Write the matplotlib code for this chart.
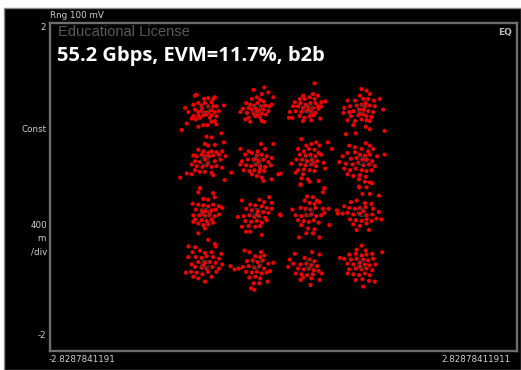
import matplotlib
matplotlib.use("Agg")
import matplotlib.pyplot as plt
from matplotlib.patches import Rectangle

# Ideal 16-QAM reference levels (unit average power)
levels = [-0.949, -0.316, 0.316, 0.949]

# Received symbols, grouped by constellation point (I, Q)
pts_r1c1 = [(-1.07, 1.11), (-1.05, 1.12), (-0.96, 1.07), (-0.91, 1.08), (-0.85, 1.07), (-0.83, 1.09),
            (-0.87, 1.03), (-1.09, 1.00), (-1.03, 1.02), (-0.99, 0.99), (-0.95, 1.02), (-0.91, 0.98),
            (-0.85, 0.98), (-0.81, 0.98), (-0.72, 0.99), (-1.19, 0.96), (-1.15, 0.91), (-1.07, 0.94),
            (-1.03, 0.91), (-0.99, 0.92), (-0.95, 0.90), (-0.91, 0.91), (-0.87, 0.93), (-0.83, 0.91),
            (-1.09, 0.86), (-1.03, 0.87), (-0.97, 0.87), (-0.93, 0.88), (-0.87, 0.87), (-0.81, 0.86),
            (-1.11, 0.83), (-1.06, 0.82), (-1.01, 0.84), (-0.83, 0.80), (-0.87, 0.79), (-0.81, 0.76),
            (-0.97, 0.75), (-0.92, 0.75), (-1.03, 0.73), (-1.17, 0.77), (-1.23, 0.69), (-0.99, 0.96),
            (-0.78, 0.92), (-0.89, 0.84)]
pts_r1c2 = [(-0.36, 1.18), (-0.23, 1.21), (-0.26, 1.13), (-0.18, 1.15), (-0.12, 1.09), (-0.38, 1.07),
            (-0.32, 1.09), (-0.28, 1.06), (-0.24, 1.04), (-0.45, 1.02), (-0.40, 1.00), (-0.35, 0.99),
            (-0.31, 1.02), (-0.27, 0.98), (-0.22, 0.99), (-0.17, 0.98), (-0.49, 0.95), (-0.42, 0.96),
            (-0.38, 0.94), (-0.33, 0.95), (-0.29, 0.93), (-0.24, 0.94), (-0.18, 0.92), (-0.52, 0.91),
            (-0.44, 0.90), (-0.36, 0.89), (-0.31, 0.88), (-0.26, 0.89), (-0.21, 0.88), (-0.42, 0.84),
            (-0.34, 0.86), (-0.28, 0.84), (-0.46, 0.82), (-0.40, 0.79), (-0.26, 0.80), (-0.23, 0.79),
            (-0.32, 0.91), (-0.14, 1.00)]
pts_r1c3 = [(0.38, 1.26), (0.24, 1.11), (0.36, 1.13), (0.42, 1.11), (0.20, 1.07), (0.26, 1.07),
            (0.32, 1.09), (0.38, 1.07), (0.14, 1.03), (0.21, 1.02), (0.27, 1.00), (0.33, 1.02),
            (0.39, 1.02), (0.46, 1.03), (0.51, 1.04), (0.12, 0.98), (0.18, 0.98), (0.24, 0.96),
            (0.30, 0.98), (0.36, 0.96), (0.42, 0.98), (0.46, 0.98), (0.08, 0.91), (0.15, 0.92),
            (0.22, 0.91), (0.28, 0.92), (0.34, 0.91), (0.39, 0.90), (0.07, 0.84), (0.11, 0.84),
            (0.20, 0.86), (0.26, 0.84), (0.32, 0.86), (0.37, 0.87), (0.45, 0.83), (0.24, 0.80),
            (0.34, 0.81), (0.31, 0.94), (0.43, 0.95)]
pts_r1c4 = [(0.95, 1.19), (1.01, 1.17), (0.93, 1.11), (1.05, 1.13), (1.17, 1.07), (0.78, 1.05),
            (0.87, 1.05), (0.97, 1.07), (1.03, 1.07), (1.10, 1.05), (0.74, 0.96), (0.81, 0.98),
            (0.89, 0.99), (0.95, 1.00), (1.00, 1.02), (1.05, 0.99), (1.11, 0.98), (1.21, 0.94),
            (0.73, 0.90), (0.80, 0.91), (0.85, 0.92), (0.92, 0.94), (0.97, 0.94), (1.03, 0.92),
            (1.09, 0.91), (0.82, 0.86), (0.91, 0.87), (0.97, 0.88), (1.01, 0.86), (1.07, 0.85),
            (0.78, 0.81), (0.87, 0.80), (0.95, 0.82), (1.01, 0.81), (1.05, 0.80), (0.85, 0.75),
            (1.00, 0.73), (1.05, 0.70), (0.76, 0.64), (0.88, 0.65), (1.23, 0.68), (0.93, 0.89),
            (0.99, 0.98)]
pts_r2c1 = [(-0.75, 0.65), (-0.93, 0.61), (-0.87, 0.60), (-0.72, 0.54), (-0.95, 0.52), (-0.91, 0.50),
            (-0.83, 0.51), (-1.03, 0.45), (-0.97, 0.43), (-0.91, 0.41), (-0.87, 0.43), (-0.81, 0.42),
            (-0.74, 0.43), (-1.09, 0.38), (-1.05, 0.37), (-0.99, 0.39), (-0.95, 0.37), (-0.90, 0.37),
            (-0.85, 0.38), (-0.78, 0.39), (-0.70, 0.37), (-1.07, 0.31), (-1.01, 0.30), (-0.95, 0.33),
            (-0.91, 0.29), (-0.83, 0.31), (-0.76, 0.33), (-1.11, 0.27), (-1.05, 0.25), (-0.98, 0.24),
            (-0.93, 0.26), (-0.87, 0.24), (-0.81, 0.25), (-0.74, 0.23), (-1.07, 0.20), (-1.01, 0.18),
            (-0.95, 0.18), (-0.87, 0.17), (-0.63, 0.17), (-1.17, 0.16), (-1.25, 0.11), (-1.11, 0.15),
            (-0.71, 0.08), (-1.01, -0.02), (-0.85, 0.14)]
pts_r2c2 = [(-0.27, 0.52), (-0.12, 0.52), (-0.22, 0.46), (-0.52, 0.46), (-0.42, 0.43), (-0.31, 0.43),
            (-0.46, 0.39), (-0.38, 0.41), (-0.32, 0.38), (-0.26, 0.39), (-0.20, 0.37), (-0.14, 0.35),
            (-0.50, 0.31), (-0.43, 0.33), (-0.36, 0.33), (-0.30, 0.31), (-0.24, 0.33), (-0.18, 0.30),
            (-0.52, 0.27), (-0.45, 0.26), (-0.39, 0.25), (-0.33, 0.27), (-0.28, 0.25), (-0.22, 0.24),
            (-0.15, 0.26), (-0.48, 0.20), (-0.41, 0.19), (-0.35, 0.20), (-0.29, 0.18), (-0.23, 0.19),
            (-0.38, 0.15), (-0.32, 0.13), (-0.26, 0.11), (-0.24, 0.07), (-0.14, 0.09), (-0.06, 0.15),
            (-0.34, 0.34), (-0.28, 0.22)]
pts_r2c3 = [(0.22, 0.58), (0.40, 0.54), (0.54, 0.54), (0.28, 0.50), (0.34, 0.52), (0.44, 0.50),
            (0.18, 0.46), (0.25, 0.43), (0.31, 0.46), (0.38, 0.45), (0.43, 0.41), (0.59, 0.46),
            (0.20, 0.39), (0.27, 0.38), (0.33, 0.39), (0.39, 0.37), (0.46, 0.39), (0.16, 0.33),
            (0.23, 0.33), (0.29, 0.31), (0.35, 0.33), (0.41, 0.31), (0.10, 0.28), (0.21, 0.27),
            (0.27, 0.26), (0.34, 0.27), (0.40, 0.25), (0.49, 0.29), (0.18, 0.20), (0.25, 0.21),
            (0.32, 0.20), (0.38, 0.19), (0.51, 0.22), (0.15, 0.17), (0.24, 0.15), (0.30, 0.09),
            (0.22, 0.10), (0.43, 0.07), (0.32, 0.06), (0.50, -0.02), (0.21, 0.03), (-0.03, 0.16),
            (0.36, 0.29)]
pts_r2c4 = [(0.80, 0.50), (1.00, 0.53), (1.05, 0.50), (0.95, 0.46), (1.03, 0.43), (1.09, 0.46),
            (0.78, 0.41), (0.87, 0.42), (0.93, 0.39), (0.99, 0.38), (1.05, 0.39), (1.14, 0.37),
            (1.23, 0.39), (0.72, 0.37), (0.82, 0.34), (0.89, 0.35), (0.96, 0.33), (1.01, 0.33),
            (1.08, 0.31), (0.68, 0.30), (0.76, 0.28), (0.84, 0.27), (0.91, 0.29), (0.97, 0.26),
            (1.04, 0.27), (1.11, 0.25), (0.74, 0.22), (0.81, 0.20), (0.88, 0.22), (0.95, 0.20),
            (1.01, 0.19), (1.07, 0.20), (0.78, 0.15), (0.85, 0.13), (0.93, 0.14), (1.00, 0.12),
            (0.92, 0.09), (1.05, 0.05), (0.99, 0.06), (1.08, 0.04), (0.92, -0.01), (1.01, 0.33),
            (0.87, 0.48)]
pts_r3c1 = [(-1.01, -0.02), (-1.03, -0.07), (-0.85, -0.08), (-0.97, -0.15), (-0.91, -0.16), (-0.83, -0.13),
            (-1.10, -0.21), (-1.03, -0.22), (-0.97, -0.23), (-0.91, -0.24), (-0.85, -0.22), (-0.78, -0.24),
            (-0.74, -0.26), (-1.06, -0.28), (-0.99, -0.29), (-0.94, -0.30), (-0.87, -0.29), (-0.82, -0.28),
            (-1.09, -0.35), (-1.02, -0.35), (-0.95, -0.36), (-0.90, -0.35), (-0.83, -0.36), (-0.78, -0.34),
            (-1.07, -0.40), (-0.99, -0.41), (-0.93, -0.42), (-0.87, -0.40), (-1.03, -0.45), (-0.97, -0.47),
            (-0.91, -0.46), (-0.85, -0.44), (-0.95, -0.51), (-1.03, -0.57), (-1.09, -0.43), (-0.89, -0.32),
            (-0.98, -0.32)]
pts_r3c2 = [(-0.17, -0.13), (-0.50, -0.17), (-0.29, -0.16), (-0.23, -0.19), (-0.14, -0.20), (-0.40, -0.22),
            (-0.34, -0.23), (-0.26, -0.24), (-0.20, -0.26), (-0.14, -0.27), (-0.45, -0.27), (-0.38, -0.29),
            (-0.31, -0.30), (-0.24, -0.31), (-0.18, -0.32), (-0.04, -0.34), (-0.55, -0.37), (-0.48, -0.36),
            (-0.41, -0.35), (-0.35, -0.37), (-0.29, -0.36), (-0.22, -0.38), (-0.46, -0.42), (-0.39, -0.43),
            (-0.32, -0.42), (-0.26, -0.44), (-0.20, -0.41), (-0.42, -0.48), (-0.34, -0.49), (-0.28, -0.48),
            (-0.45, -0.55), (-0.40, -0.55), (-0.26, -0.59), (-0.32, -0.34), (-0.50, -0.49)]
pts_r3c3 = [(0.21, 0.02), (0.50, -0.02), (0.48, -0.07), (0.29, -0.12), (0.36, -0.13), (0.41, -0.17),
            (0.26, -0.17), (0.32, -0.20), (0.38, -0.21), (0.44, -0.19), (0.11, -0.28), (0.21, -0.26),
            (0.27, -0.27), (0.33, -0.28), (0.39, -0.26), (0.48, -0.27), (0.55, -0.27), (0.65, -0.29),
            (0.15, -0.35), (0.22, -0.36), (0.28, -0.35), (0.34, -0.34), (0.40, -0.36), (0.46, -0.35),
            (-0.03, -0.35), (0.18, -0.41), (0.25, -0.42), (0.31, -0.43), (0.37, -0.41), (0.43, -0.44),
            (0.22, -0.47), (0.30, -0.51), (0.38, -0.52), (0.56, -0.47), (0.28, -0.57), (0.36, -0.57),
            (0.19, -0.62), (0.44, -0.62), (0.50, -0.32)]
pts_r3c4 = [(0.92, -0.00), (1.01, -0.01), (1.05, -0.09), (0.96, -0.09), (1.16, -0.11), (0.82, -0.19),
            (0.89, -0.17), (0.99, -0.20), (1.07, -0.21), (0.74, -0.24), (0.80, -0.26), (0.87, -0.27),
            (0.93, -0.26), (1.00, -0.25), (1.09, -0.27), (1.16, -0.31), (0.72, -0.33), (0.78, -0.32),
            (0.85, -0.34), (0.93, -0.33), (1.01, -0.35), (1.08, -0.34), (0.81, -0.40), (0.88, -0.41),
            (0.95, -0.42), (1.01, -0.40), (1.07, -0.42), (1.13, -0.39), (0.85, -0.46), (0.93, -0.48),
            (1.01, -0.45), (1.04, -0.53), (0.89, -0.53), (1.19, -0.40), (0.97, -0.30), (0.66, -0.33)]
pts_r4c1 = [(-0.91, -0.65), (-0.83, -0.70), (-1.15, -0.73), (-1.07, -0.74), (-0.82, -0.73), (-1.10, -0.80),
            (-1.01, -0.78), (-0.95, -0.81), (-0.87, -0.80), (-0.75, -0.82), (-1.15, -0.86), (-1.06, -0.86),
            (-0.99, -0.87), (-0.93, -0.85), (-0.85, -0.86), (-0.78, -0.88), (-1.03, -0.92), (-0.95, -0.93),
            (-0.89, -0.92), (-0.82, -0.93), (-0.74, -0.95), (-1.11, -0.95), (-1.07, -0.98), (-0.99, -0.99),
            (-0.93, -1.00), (-0.86, -0.98), (-0.78, -1.00), (-0.64, -0.97), (-0.59, -1.01), (-1.18, -1.05),
            (-1.12, -1.04), (-1.05, -1.05), (-0.98, -1.07), (-0.91, -1.04), (-1.03, -1.12), (-0.95, -1.16),
            (-1.09, -1.10), (-0.87, -1.10), (-0.97, -0.96), (-0.81, -1.04)]
pts_r4c2 = [(-0.47, -0.78), (-0.41, -0.80), (-0.27, -0.80), (-0.34, -0.85), (-0.28, -0.86), (-0.23, -0.84),
            (-0.44, -0.91), (-0.37, -0.90), (-0.31, -0.92), (-0.25, -0.90), (-0.18, -0.94), (-0.12, -0.93),
            (-0.49, -0.98), (-0.42, -0.97), (-0.35, -0.99), (-0.29, -0.97), (-0.23, -1.00), (-0.16, -1.03),
            (-0.45, -1.04), (-0.38, -1.05), (-0.32, -1.04), (-0.26, -1.06), (-0.20, -1.05), (-0.34, -1.10),
            (-0.28, -1.12), (-0.36, -1.18), (-0.29, -1.18), (-0.19, -1.16), (-0.35, -1.26), (-0.39, -1.24),
            (-0.54, -1.00), (-0.41, -1.11)]
pts_r4c3 = [(0.14, -0.82), (0.35, -0.80), (0.44, -0.83), (0.08, -0.89), (0.26, -0.87), (0.32, -0.89),
            (0.38, -0.91), (0.12, -0.94), (0.21, -0.95), (0.28, -0.94), (0.34, -0.96), (0.41, -0.97),
            (0.06, -0.98), (0.18, -1.00), (0.25, -1.01), (0.31, -1.00), (0.37, -1.02), (0.43, -1.03),
            (0.15, -1.06), (0.22, -1.07), (0.29, -1.08), (0.36, -1.07), (0.47, -1.06), (0.24, -1.11),
            (0.34, -1.12), (0.33, -1.20), (0.21, -1.14), (0.44, -1.14)]
pts_r4c4 = [(0.95, -0.72), (0.89, -0.77), (1.00, -0.78), (0.80, -0.83), (0.88, -0.82), (0.95, -0.84),
            (1.01, -0.83), (1.08, -0.82), (1.20, -0.80), (0.74, -0.88), (0.82, -0.89), (0.89, -0.88),
            (0.97, -0.89), (1.03, -0.90), (1.09, -0.88), (0.78, -0.94), (0.85, -0.95), (0.93, -0.93),
            (0.99, -0.95), (1.05, -0.96), (1.12, -0.95), (0.69, -0.87), (0.80, -1.01), (0.88, -1.00),
            (0.95, -1.01), (1.01, -1.00), (1.08, -1.02), (0.78, -1.06), (0.85, -1.07), (0.92, -1.08),
            (0.99, -1.06), (1.05, -1.08), (0.88, -1.14), (0.96, -1.13), (1.04, -1.15), (1.11, -1.16),
            (0.97, -1.22), (0.93, -0.98)]

clusters = [pts_r1c1, pts_r1c2, pts_r1c3, pts_r1c4,
            pts_r2c1, pts_r2c2, pts_r2c3, pts_r2c4,
            pts_r3c1, pts_r3c2, pts_r3c3, pts_r3c4,
            pts_r4c1, pts_r4c2, pts_r4c3, pts_r4c4]

x_span = 2.8287841191
y_span = 2.0
title = "55.2 Gbps, EVM=11.7%, b2b"
watermark = "Educational License"
range_label = "Rng 100 mV"
x_left_label = "-2.8287841191"
x_right_label = "2.82878411911"

W, H = 521, 370
fig = plt.figure(figsize=(W / 100, H / 100), dpi=100)
fig.patch.set_facecolor("white")


def fx(x):
    return x / W


def fy(y):
    return 1 - y / H


# instrument panel background
panel = Rectangle((fx(4), 0), 1 - fx(4), fy(8), transform=fig.transFigure,
                  facecolor="black", edgecolor="#8a8a8a", linewidth=1.0, zorder=-10)
fig.add_artist(panel)

ax = fig.add_axes([fx(50), fy(350.5), fx(516.5) - fx(50), fy(22.7) - fy(350.5)])
ax.set_zorder(1)
ax.set_facecolor("black")
ax.set_xlim(-x_span, x_span)
ax.set_ylim(-y_span, y_span)
ax.set_xticks([])
ax.set_yticks([])
for s in ax.spines.values():
    s.set_color("#6e6e6e")
    s.set_linewidth(1.7)

for pts in clusters:
    xs = [p[0] for p in pts]
    ys = [p[1] for p in pts]
    ax.scatter(xs, ys, s=9, color="#ee0000", edgecolors="none", zorder=3)

# ideal constellation markers
ideal_x = [i for q in levels for i in levels]
ideal_y = [q for q in levels for i in levels]
ax.scatter(ideal_x, ideal_y, s=36, facecolors="none", edgecolors="#3c3c3c",
           linewidths=0.7, zorder=4)

ax.text(0.017, 0.993, watermark, transform=ax.transAxes, ha="left", va="top",
        color="#5a5a5a", fontsize=10.5, family="Liberation Sans")
ax.text(0.015, 0.928, title, transform=ax.transAxes, ha="left", va="top",
        color="white", fontsize=14.5, fontweight="bold", family="Open Sans")
ax.text(0.99, 0.985, "EQ", transform=ax.transAxes, ha="right", va="top",
        color="#bdbdbd", fontsize=6.5, fontweight="bold", family="DejaVu Sans")

lab = dict(color="#d0d0d0", fontsize=6.3, family="DejaVu Sans", zorder=5)
fig.text(fx(50), fy(15), range_label, ha="left", va="center", **lab)
fig.text(fx(46), fy(28), "2", ha="right", va="center", **lab)
fig.text(fx(47), fy(130), "Const", ha="right", va="center", **lab)
fig.text(fx(47), fy(226), "400", ha="right", va="center", **lab)
fig.text(fx(46), fy(239), "m", ha="right", va="center", **lab)
fig.text(fx(47), fy(252), "/div", ha="right", va="center", **lab)
fig.text(fx(46), fy(336), "-2", ha="right", va="center", **lab)
fig.text(fx(49), fy(360), x_left_label, ha="left", va="center", **lab)
fig.text(fx(511), fy(360), x_right_label, ha="right", va="center", **lab)

fig.savefig("out.png", dpi=100, facecolor=fig.get_facecolor())
